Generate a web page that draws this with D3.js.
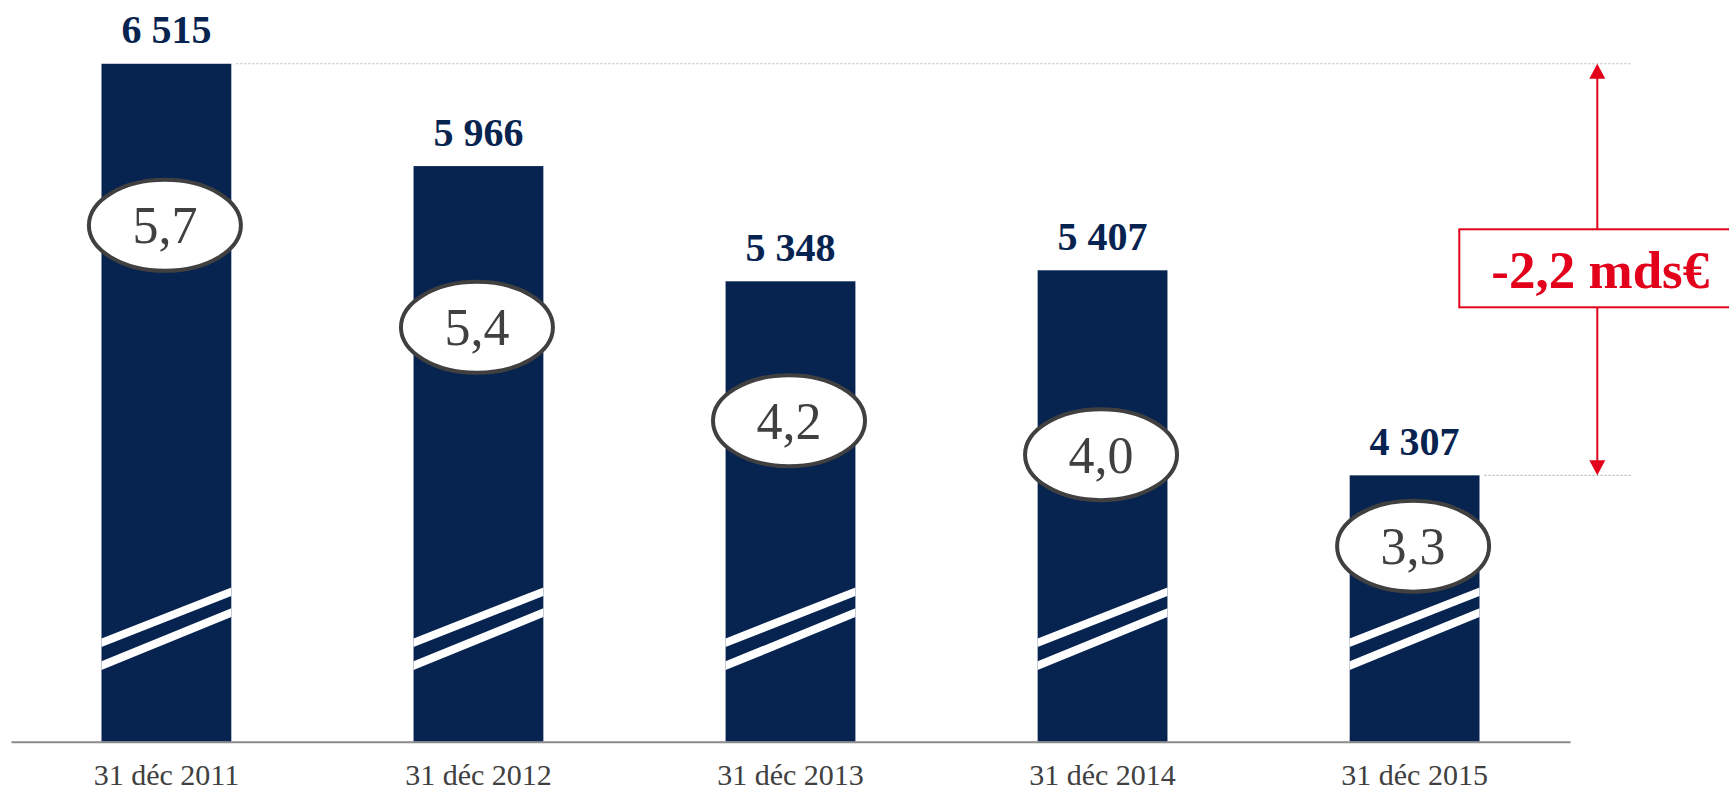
<!DOCTYPE html>
<html><head><meta charset="utf-8">
<script src="https://cdn.jsdelivr.net/npm/d3@7"></script>
<style>
html,body{margin:0;padding:0;background:#fff;}
svg{display:block;}
</style></head>
<body>
<svg id="chart" width="1729" height="792"></svg>
<script>
// ---- data ----
const categories = ["31 déc 2011", "31 déc 2012", "31 déc 2013", "31 déc 2014", "31 déc 2015"];
const values = [6515, 5966, 5348, 5407, 4307];
const valueLabels = ["6 515", "5 966", "5 348", "5 407", "4 307"];
const ratios = [5.7, 5.4, 4.2, 4.0, 3.3];
const ratioLabels = ["5,7", "5,4", "4,2", "4,0", "3,3"];
const deltaLabel = "-2,2 mds€";

// ---- layout ----
const W = 1729, H = 792;
const axisY = 741.7;
const NAVY = "#072350", GREY = "#404040", RED = "#e2001a";
const FONT = "'Liberation Serif', 'Times New Roman', serif";
// badge anchors expressed in the bar value scale (broken axis annotation placement)
const badgeAnchor = [5648, 5101, 4600, 4418, 3927];

const svg = d3.select("#chart");

const x = d3.scaleBand().domain(categories).range([11, 1570])
  .paddingInner(0.584).paddingOuter(0.29);
const y = d3.scaleLinear().domain([2878, 6515]).range([axisY, axisY - 0.1864 * (6515 - 2878)]);

// bars
const g = svg.append("g");
g.selectAll("rect.bar").data(values).join("rect")
  .attr("class", "bar")
  .attr("x", (d, i) => x(categories[i]))
  .attr("y", d => y(d))
  .attr("width", x.bandwidth())
  .attr("height", d => axisY - y(d))
  .attr("fill", NAVY);

// break stripes (white diagonal bands near the base of each bar)
const stripes = [
  { l: 99, r: 150, t: 8.6 },
  { l: 76, r: 129, t: 8.8 }
];
categories.forEach(c => {
  const x0 = x(c), x1 = x(c) + x.bandwidth();
  stripes.forEach(s => {
    const yl = axisY - s.l, yr = axisY - s.r, h = s.t / 2;
    g.append("polygon")
      .attr("points", [[x0, yl - h], [x1, yr - h], [x1, yr + h], [x0, yl + h]].map(p => p.join(",")).join(" "))
      .attr("fill", "#fff");
  });
});

// value labels
g.selectAll("text.val").data(values).join("text")
  .attr("class", "val")
  .attr("x", (d, i) => x(categories[i]) + x.bandwidth() / 2)
  .attr("y", d => y(d) - 20.5)
  .attr("text-anchor", "middle")
  .attr("font-family", FONT)
  .attr("font-weight", "bold")
  .attr("font-size", 40)
  .attr("fill", NAVY)
  .text((d, i) => valueLabels[i]);

// dotted reference lines
const iMax = values.indexOf(d3.max(values));
const iLast = values.length - 1;
const lineEnd = 1632;
[[iMax, values[iMax]], [iLast, values[iLast]]].forEach(([i, v]) => {
  svg.append("line")
    .attr("x1", x(categories[i]) + x.bandwidth() + 5)
    .attr("x2", lineEnd)
    .attr("y1", y(v)).attr("y2", y(v))
    .attr("stroke", "#b5b5b5").attr("stroke-width", 1.2)
    .attr("stroke-dasharray", "2,2");
});

// ratio badges
const badges = svg.append("g");
ratios.forEach((r, i) => {
  const cx = x(categories[i]) + x.bandwidth() / 2 - 1.5;
  const cy = y(badgeAnchor[i]);
  badges.append("ellipse")
    .attr("cx", cx).attr("cy", cy)
    .attr("rx", 76).attr("ry", 45.5)
    .attr("fill", "#fff").attr("stroke", GREY).attr("stroke-width", 4);
  badges.append("text")
    .attr("x", cx).attr("y", cy + 18)
    .attr("text-anchor", "middle")
    .attr("font-family", FONT)
    .attr("font-size", 52)
    .attr("fill", GREY)
    .text(ratioLabels[i]);
});

// x axis
const axis = svg.append("g").attr("transform", `translate(0,${axisY})`)
  .call(d3.axisBottom(x).tickSize(0).tickSizeOuter(0));
axis.select(".domain").attr("stroke", "#8a8a8a").attr("stroke-width", 2);
axis.selectAll(".tick text")
  .attr("dy", null).attr("y", 43)
  .attr("font-family", FONT).attr("font-size", 30)
  .attr("fill", GREY);

// delta annotation (arrow between max and last)
const ax = 1597.3;
const yTop = y(values[iMax]), yBot = y(values[iLast]);
const boxTop = 229.3, boxBot = 307.3, boxW = 276;
const ann = svg.append("g");
ann.append("line").attr("x1", ax).attr("x2", ax).attr("y1", yTop + 14).attr("y2", boxTop)
  .attr("stroke", RED).attr("stroke-width", 2);
ann.append("line").attr("x1", ax).attr("x2", ax).attr("y1", boxBot).attr("y2", yBot - 14)
  .attr("stroke", RED).attr("stroke-width", 2);
ann.append("polygon")
  .attr("points", `${ax},${yTop} ${ax - 8},${yTop + 15} ${ax + 8},${yTop + 15}`).attr("fill", RED);
ann.append("polygon")
  .attr("points", `${ax},${yBot} ${ax - 8},${yBot - 15} ${ax + 8},${yBot - 15}`).attr("fill", RED);
ann.append("rect")
  .attr("x", ax - boxW / 2).attr("y", boxTop)
  .attr("width", boxW).attr("height", boxBot - boxTop)
  .attr("fill", "#fff").attr("stroke", RED).attr("stroke-width", 2);
ann.append("text")
  .attr("x", ax + 3).attr("y", 288)
  .attr("text-anchor", "middle")
  .attr("font-family", FONT).attr("font-weight", "bold")
  .attr("font-size", 53).attr("fill", RED)
  .text(deltaLabel);
</script>
</body></html>
